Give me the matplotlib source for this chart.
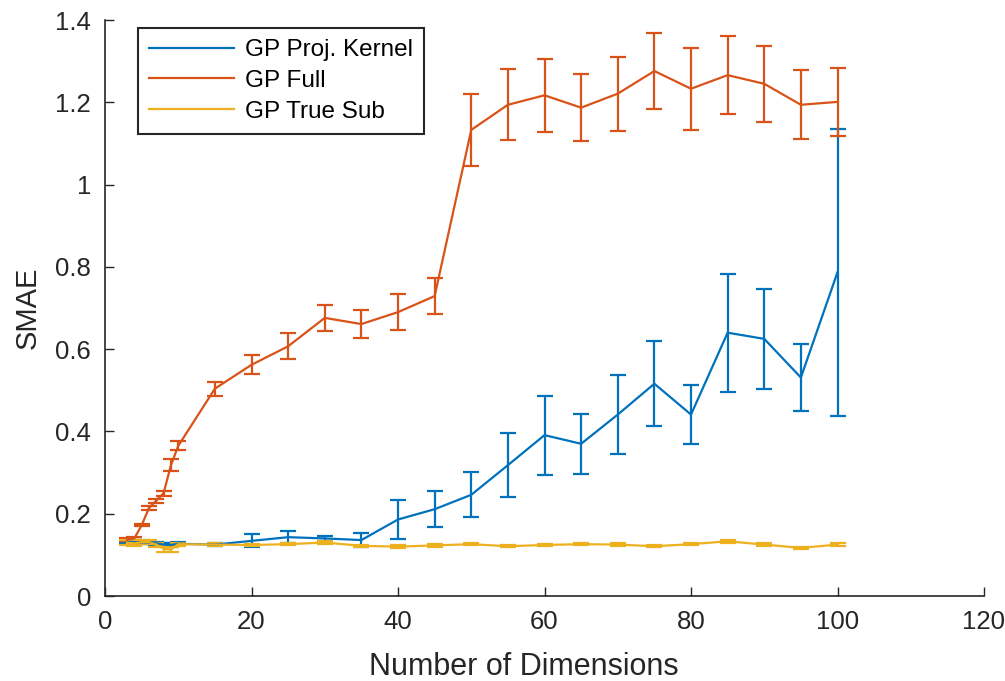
import matplotlib.pyplot as plt
from matplotlib.ticker import FuncFormatter

plt.rcParams['font.family'] = ['Liberation Sans', 'DejaVu Sans']

# dimensions tested
dims = [3, 4, 5, 6, 7, 8, 9, 10, 15, 20, 25, 30, 35, 40, 45, 50,
        55, 60, 65, 70, 75, 80, 85, 90, 95, 100]

# GP Proj. Kernel
proj_mean = [0.132, 0.131, 0.130, 0.130, 0.128, 0.125, 0.124, 0.127, 0.125, 0.134,
             0.143, 0.140, 0.136, 0.186, 0.211, 0.246, 0.318, 0.391, 0.370, 0.441,
             0.516, 0.441, 0.640, 0.625, 0.531, 0.787]
proj_err = [0.004, 0.004, 0.004, 0.004, 0.004, 0.004, 0.004, 0.004, 0.004, 0.016,
            0.015, 0.006, 0.017, 0.047, 0.044, 0.055, 0.078, 0.096, 0.073, 0.097,
            0.103, 0.071, 0.143, 0.121, 0.082, 0.349]

# GP Full
full_mean = [0.137, 0.140, 0.172, 0.214, 0.232, 0.250, 0.318, 0.365, 0.504, 0.562,
             0.607, 0.676, 0.661, 0.690, 0.729, 1.133, 1.194, 1.217, 1.187, 1.221,
             1.276, 1.233, 1.266, 1.245, 1.194, 1.201]
full_err = [0.003, 0.003, 0.003, 0.005, 0.005, 0.006, 0.014, 0.011, 0.017, 0.023,
            0.032, 0.032, 0.033, 0.044, 0.043, 0.087, 0.086, 0.088, 0.081, 0.090,
            0.092, 0.100, 0.095, 0.093, 0.084, 0.083]

# GP True Sub
true_mean = [0.130, 0.128, 0.131, 0.131, 0.125, 0.115, 0.113, 0.126, 0.125, 0.124,
             0.126, 0.130, 0.122, 0.120, 0.123, 0.126, 0.121, 0.124, 0.126, 0.125,
             0.121, 0.126, 0.133, 0.125, 0.117, 0.125]
true_err = [0.007, 0.007, 0.005, 0.005, 0.005, 0.007, 0.007, 0.004, 0.003, 0.003,
            0.003, 0.003, 0.003, 0.003, 0.003, 0.003, 0.003, 0.003, 0.003, 0.003,
            0.003, 0.003, 0.003, 0.003, 0.003, 0.003]

labels = ['GP Proj. Kernel', 'GP Full', 'GP True Sub']
colors = ['#0072BD', '#D95319', '#EDB120']

fig = plt.figure(figsize=(10.05, 6.81), dpi=100)
ax = fig.add_axes([0.1045, 0.1248, 0.8746, 0.8458])

handles = []
for mean, err, c in zip([proj_mean, full_mean, true_mean],
                        [proj_err, full_err, true_err], colors):
    cont = ax.errorbar(dims, mean, yerr=err, color=c, lw=1.6, elinewidth=1.6,
                       capsize=5.8, capthick=1.6)
    handles.append(cont.lines[0])

ax.set_xlim(0, 120)
ax.set_ylim(0, 1.4)
ax.set_xticks(range(0, 121, 20))
ax.set_yticks([0, 0.2, 0.4, 0.6, 0.8, 1.0, 1.2, 1.4])
ax.yaxis.set_major_formatter(FuncFormatter(lambda v, p: f'{v:g}'))

axis_col = '#262626'
for side in ['top', 'right']:
    ax.spines[side].set_visible(False)
for side in ['left', 'bottom']:
    ax.spines[side].set_linewidth(1.2)
    ax.spines[side].set_color(axis_col)
ax.tick_params(direction='in', length=6.5, width=1.0, colors=axis_col,
               labelsize=18.5, pad=10)

ax.set_xlabel('Number of Dimensions', fontsize=22, color=axis_col)
ax.xaxis.set_label_coords(0.477, -0.098)
ax.set_ylabel('SMAE', fontsize=21, color=axis_col, labelpad=10)

leg = ax.legend(handles, labels, loc='upper left', bbox_to_anchor=(0.0375, 0.986),
                borderaxespad=0, fontsize=17.5, handlelength=3.5, handletextpad=0.45,
                labelspacing=0.36, borderpad=0.45, fancybox=False, framealpha=1)
leg.get_frame().set_edgecolor('#262626')
leg.get_frame().set_linewidth(1.5)

plt.savefig('out.png', dpi=100)
